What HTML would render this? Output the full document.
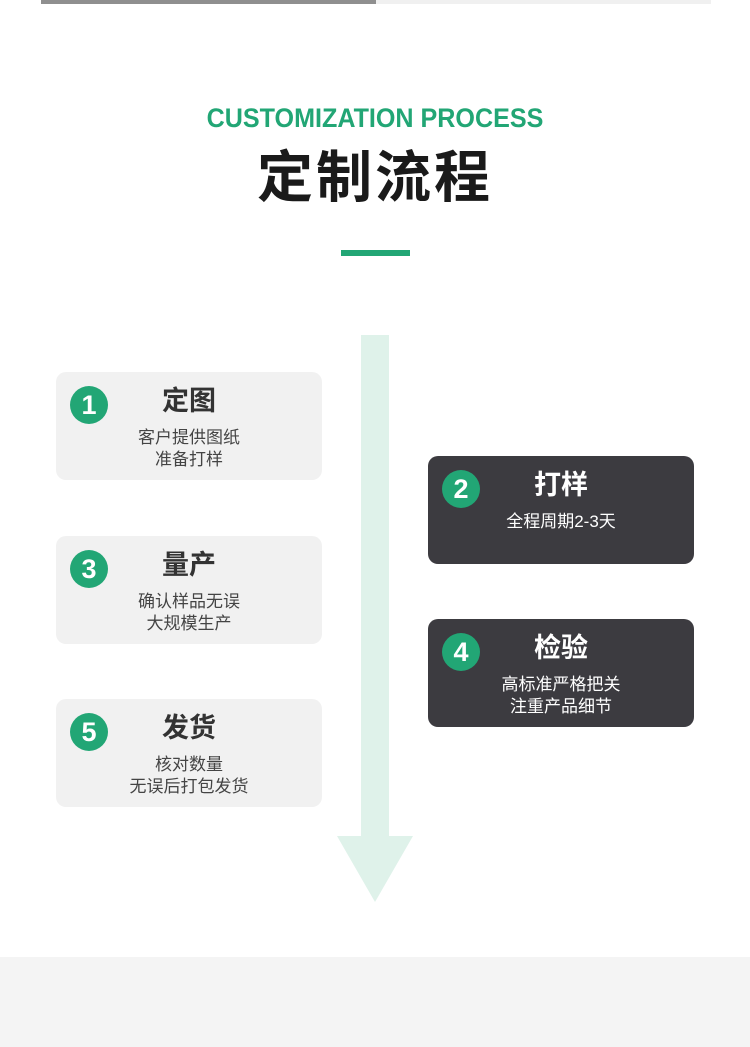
<!DOCTYPE html>
<html><head><meta charset="utf-8"><style>
*{margin:0;padding:0;box-sizing:border-box}
body{width:750px;height:1047px;background:#fff;position:relative;overflow:hidden;font-family:"Liberation Sans","Noto Sans CJK SC",sans-serif}
.a{position:absolute}
.box{position:absolute;width:266px;height:108px;border-radius:10px;background:#f1f1f1;color:#333}
.box.d{background:#3c3b40;color:#fff}
.c{position:absolute;left:14px;top:14px;width:38px;height:38px;border-radius:50%;background:#22a675;color:#fff;font-size:27px;line-height:38px;text-align:center;font-weight:bold}
.t{position:absolute;left:0;width:266px;text-align:center;top:11px;font-size:27px;font-weight:bold;line-height:36px}
.s{position:absolute;left:0;width:266px;text-align:center;top:55px;font-size:17px;line-height:22px;color:#444}
.d .s{color:#fff}
</style></head><body>
<div class="a" style="left:41px;top:0;width:335px;height:4px;background:#8f8f8f"></div>
<div class="a" style="left:376px;top:0;width:335px;height:4px;background:#f0f0f0"></div>
<div class="a" style="left:0;top:100px;width:750px;text-align:center;color:#22a675;font-size:27px;font-weight:bold;line-height:36px;transform:scaleX(0.93)">CUSTOMIZATION PROCESS</div>
<div class="a" style="left:0;top:145px;width:750px;text-align:center;color:#1a1a1a;font-size:56px;font-weight:bold;line-height:66px;letter-spacing:3px">定制流程</div>
<div class="a" style="left:341px;top:250px;width:69px;height:6px;background:#22a675"></div>
<div class="a" style="left:361px;top:335px;width:28px;height:502px;background:#dff2ea"></div>
<svg class="a" style="left:337px;top:836px" width="76" height="66"><polygon points="0,0 76,0 38,66" fill="#dff2ea"/></svg>
<div class="a" style="left:0;top:957px;width:750px;height:90px;background:#f4f4f4"></div>

<div class="box" style="left:56px;top:372px"><div class="c">1</div><div class="t">定图</div><div class="s">客户提供图纸<br>准备打样</div></div>
<div class="box" style="left:56px;top:536px"><div class="c">3</div><div class="t">量产</div><div class="s">确认样品无误<br>大规模生产</div></div>
<div class="box" style="left:56px;top:699px"><div class="c">5</div><div class="t">发货</div><div class="s">核对数量<br>无误后打包发货</div></div>
<div class="box d" style="left:428px;top:456px"><div class="c">2</div><div class="t">打样</div><div class="s">全程周期2-3天</div></div>
<div class="box d" style="left:428px;top:619px"><div class="c">4</div><div class="t">检验</div><div class="s">高标准严格把关<br>注重产品细节</div></div>
</body></html>
